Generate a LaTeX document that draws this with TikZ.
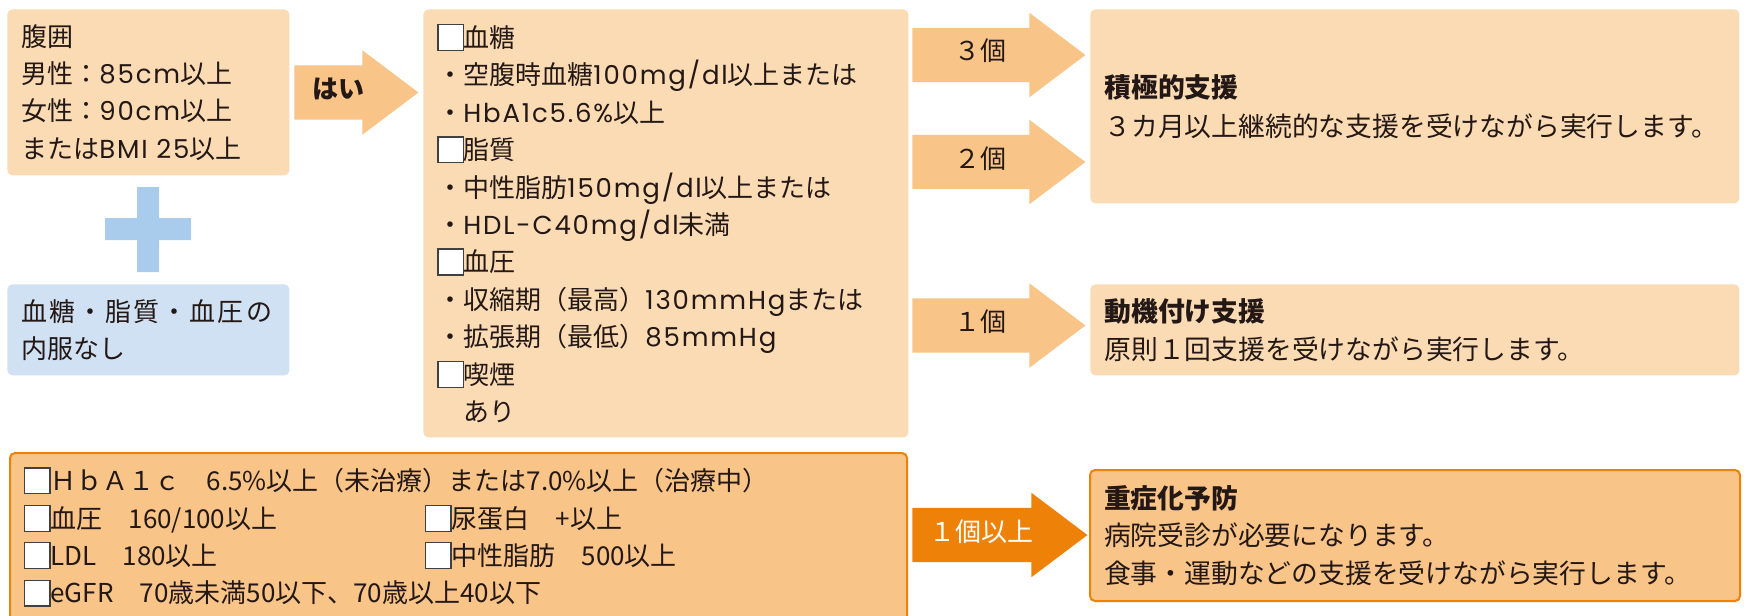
\documentclass[tikz,border=0pt]{standalone}
\usepackage{fontspec}
\setmainfont{Noto Sans CJK JP}
\newfontfamily\latfont{Poppins}[LetterSpace=7]
\usepackage{tikz}
\usetikzlibrary{shapes.arrows, positioning}

\definecolor{boxpeach}{HTML}{FADBB4}
\definecolor{arrowpeach}{HTML}{F8C488}
\definecolor{deeporange}{HTML}{EE8208}
\definecolor{boxblue}{HTML}{CFE1F3}
\definecolor{plusblue}{HTML}{A9CCEC}
\definecolor{ink}{HTML}{231815}

\newcommand\lat[1]{{\latfont #1}}
\newcommand\chk{{\setlength\fboxsep{0pt}\setlength\fboxrule{0.6pt}\fcolorbox{black!75}{white}{\rule[-0.1em]{0pt}{0.95em}\hspace{0.93em}}}}

\begin{document}
\begin{tikzpicture}[
    x=0.5pt, y=-0.5pt,
    box/.style={rectangle, rounded corners=2.5pt, anchor=north west, inner xsep=7pt, inner ysep=0pt, align=left, text=ink, font=\fontsize{13}{18.7}\selectfont},
    peachbox/.style={box, fill=boxpeach},
    bluebox/.style={box, fill=boxblue},
    alertbox/.style={box, fill=arrowpeach, draw=deeporange, line width=1pt},
    fat/.style={single arrow, fill=arrowpeach, anchor=tail, single arrow tip angle=74, single arrow head extend=7.5pt, text height=9.5pt, text depth=3.5pt, inner xsep=0pt, inner ysep=6.9pt, text=ink, font=\fontsize{13}{15}\selectfont}
]
\useasboundingbox (0,0) rectangle (1748,615);
\clip (0,0) rectangle (1748,615);

% Conditions
\node[peachbox, text width=127pt, minimum height=83pt] (waist) at (7,9) {腹囲\\男性：\lat{85cm}以上\\女性：\lat{90cm}以上\\または\lat{BMI 25}以上};
\coordinate (plus) at (148,229);
\fill[plusblue] (137,187) rectangle (159,272) (105,218) rectangle (191,240);
\node[bluebox, text width=127pt, minimum height=45.5pt] (meds) at (7,284) {{\addfontfeatures{LetterSpace=8}血糖・脂質・血圧の}\\内服なし};

\node[fat, minimum height=62pt, font=\fontsize{13}{15}\selectfont\bfseries] (yes) at (294,92.5) {はい};

% Risk items
\node[peachbox, text width=228.5pt, minimum height=214pt] (risk) at (423,9) {\chk 血糖\\・空腹時血糖\lat{100mg/dl}以上または\\・\lat{HbA1c5.6\%}以上\\\chk 脂質\\・中性脂肪\lat{150mg/dl}以上または\\・\lat{HDL-C40mg/dl}未満\\\chk 血圧\\・収縮期（最高）\lat{130mmHg}または\\・拡張期（最低）\lat{85mmHg}\\\chk 喫煙\\　あり};

\node[fat, minimum height=86.5pt] (three) at (912,55) {３個};
\node[fat, minimum height=86.5pt] (two) at (912,162) {２個};
\node[fat, minimum height=86.5pt] (one) at (912,325.5) {１個};

% Support
\node[peachbox, text width=310.5pt, minimum height=97pt, font=\fontsize{13.4}{19.4}\selectfont] (active) at (1090,9) {\textbf{積極的支援}\\３カ月以上継続的な支援を受けながら実行します。};
\node[peachbox, text width=310.5pt, minimum height=45.5pt, font=\fontsize{13.4}{19.2}\selectfont] (motive) at (1090,284) {\textbf{動機付け支援}\\原則１回支援を受けながら実行します。};

% Severe values
\node[alertbox, text width=434.5pt, minimum height=84pt] (severe) at (9,452) {\chk ＨｂＡ１ｃ　6.5\%以上（未治療）または7.0\%以上（治療中）\\\makebox[200.5pt][l]{\chk 血圧　160/100以上}\chk 尿蛋白　+以上\\\makebox[200.5pt][l]{\chk LDL　180以上}\chk 中性脂肪　500以上\\\chk eGFR　70歳未満50以下、70歳以上40以下};

\node[fat, fill=deeporange, text=white, minimum height=87.5pt] (oneplus) at (912,535) {１個以上};

\node[alertbox, text width=311pt, minimum height=65.5pt, font=\fontsize{13.4}{18.7}\selectfont] (prevent) at (1089,469) {\textbf{重症化予防}\\病院受診が必要になります。\\食事・運動などの支援を受けながら実行します。};
\end{tikzpicture}
\end{document}
